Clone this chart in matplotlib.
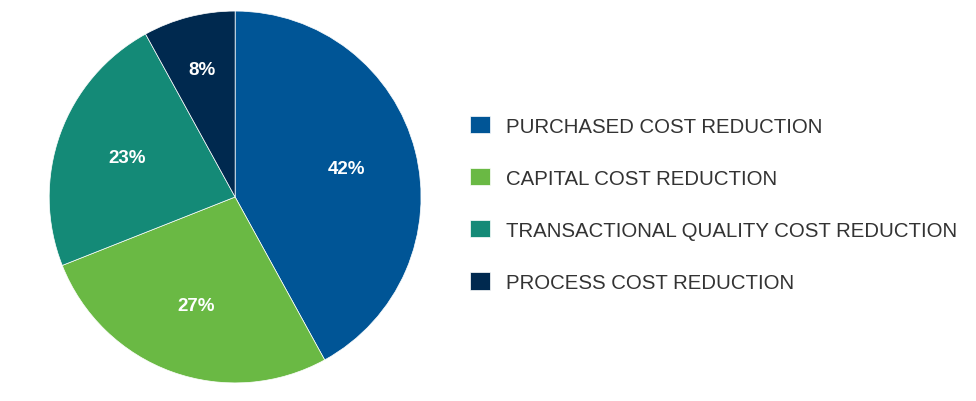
import numpy as np
import matplotlib
matplotlib.use("Agg")
from matplotlib import pyplot as plt

labels = ["PURCHASED COST REDUCTION", "CAPITAL COST REDUCTION",
          "TRANSACTIONAL QUALITY COST REDUCTION", "PROCESS COST REDUCTION"]
shares = [42, 27, 23, 8]
colors = ["#005596", "#6ab944", "#148a77", "#00294f"]

plt.rcParams['font.family'] = ['Liberation Sans', 'DejaVu Sans']

fig = plt.figure(figsize=(9.76, 4.02), dpi=100)
ax = fig.add_axes([0.0504, 0.045, 0.381, 0.925])

wedges, texts, autotexts = ax.pie(shares, colors=colors, startangle=90, counterclock=False,
                                  autopct="%d%%", pctdistance=0.62,
                                  wedgeprops=dict(linewidth=0.5, edgecolor="white"),
                                  textprops=dict(color="white", fontsize=13.5, fontweight="bold"))
# the small slice label sits a bit further out
for w, t in zip(wedges, autotexts):
    if w.theta2 - w.theta1 < 40:
        mid = np.deg2rad((w.theta1 + w.theta2) / 2)
        t.set_position((0.71 * np.cos(mid), 0.71 * np.sin(mid)))
ax.set_xlim(-1, 1)
ax.set_ylim(-1, 1)
ax.set_aspect("equal")

fig.legend(wedges, labels, loc="upper left", bbox_to_anchor=(0.482, 0.709),
           frameon=False, fontsize=14.7, handlelength=0.94, handleheight=0.94,
           handletextpad=0.78, labelspacing=1.58, labelcolor="#333333",
           borderpad=0, borderaxespad=0)

plt.savefig("out.png", dpi=100)
